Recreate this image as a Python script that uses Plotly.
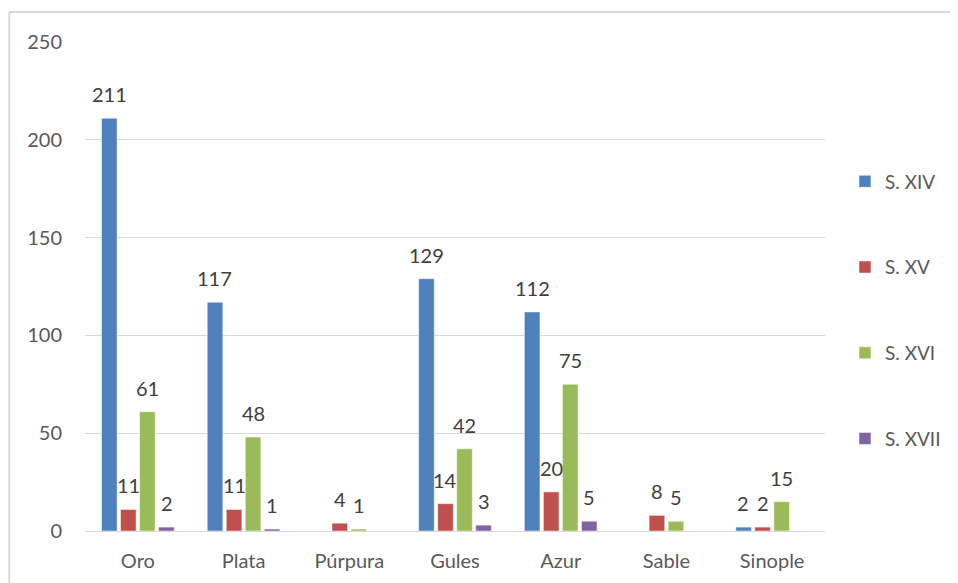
import plotly.graph_objects as go

categories = ["Oro", "Plata", "Púrpura", "Gules", "Azur", "Sable", "Sinople"]
series_names = ["S. XIV", "S. XV", "S. XVI", "S. XVII"]
s_xiv = [211, 117, 0, 129, 112, 0, 2]
s_xv = [11, 11, 4, 14, 20, 8, 2]
s_xvi = [61, 48, 1, 42, 75, 5, 15]
s_xvii = [2, 1, 0, 3, 5, 0, 0]
y_ticks = [0, 50, 100, 150, 200, 250]

colors = ["#4F81BD", "#C0504D", "#9BBB59", "#8064A2"]
FONT = "Lato, 'Open Sans', sans-serif"

W, H = 950, 575
ML, MR, MT, MB = 77, 130, 34, 52
BARGAP = 0.28
plot_w = W - ML - MR
slot = plot_w / len(categories) * (1 - BARGAP) / len(series_names)

fig = go.Figure()
annotations = []
all_series = [s_xiv, s_xv, s_xvi, s_xvii]
for i, (name, vals) in enumerate(zip(series_names, all_series)):
    fig.add_trace(go.Bar(
        x=categories, y=vals, name=name,
        marker=dict(color=colors[i], line=dict(color="white", width=0.5)),
        legendgroup=name,
    ))
    shift = (i - (len(series_names) - 1) / 2) * slot
    for c, v in zip(categories, vals):
        if v:
            annotations.append(dict(
                x=c, y=v, xref="x", yref="y", text=str(v), showarrow=False,
                xshift=shift, yshift=24, yanchor="middle", xanchor="center",
                font=dict(size=20, color="#404040", family=FONT),
            ))

fig.update_layout(
    width=W, height=H,
    margin=dict(l=ML, r=MR, t=MT, b=MB),
    paper_bgcolor="white", plot_bgcolor="white",
    barmode="group", bargap=BARGAP, bargroupgap=0.18,
    font=dict(family=FONT, color="#595959", size=19),
    legend=dict(x=1.027, y=0.452, xanchor="left", yanchor="middle",
                tracegroupgap=58, font=dict(size=19, color="#595959"),
                itemwidth=30),
    showlegend=True,
    xaxis=dict(showline=True, linecolor="#d9d9d9", linewidth=1,
               tickfont=dict(size=20, color="#595959"), ticklabelstandoff=12),
    yaxis=dict(range=[0, 250], tickvals=y_ticks, showgrid=True,
               gridcolor="#d9d9d9", zeroline=False, showline=False,
               tickfont=dict(size=20, color="#595959"), ticklabelstandoff=22),
    annotations=annotations,
    shapes=[
        dict(type="line", xref="paper", yref="paper", x0=-0.1023, x1=1.3,
             y0=1.0613, y1=1.0613, line=dict(color="#d9d9d9", width=2)),
        dict(type="line", xref="paper", yref="paper", x0=-0.1023, x1=-0.1023,
             y0=-0.2, y1=1.0613, line=dict(color="#d9d9d9", width=2)),
    ],
)

fig.write_html("out.html")
